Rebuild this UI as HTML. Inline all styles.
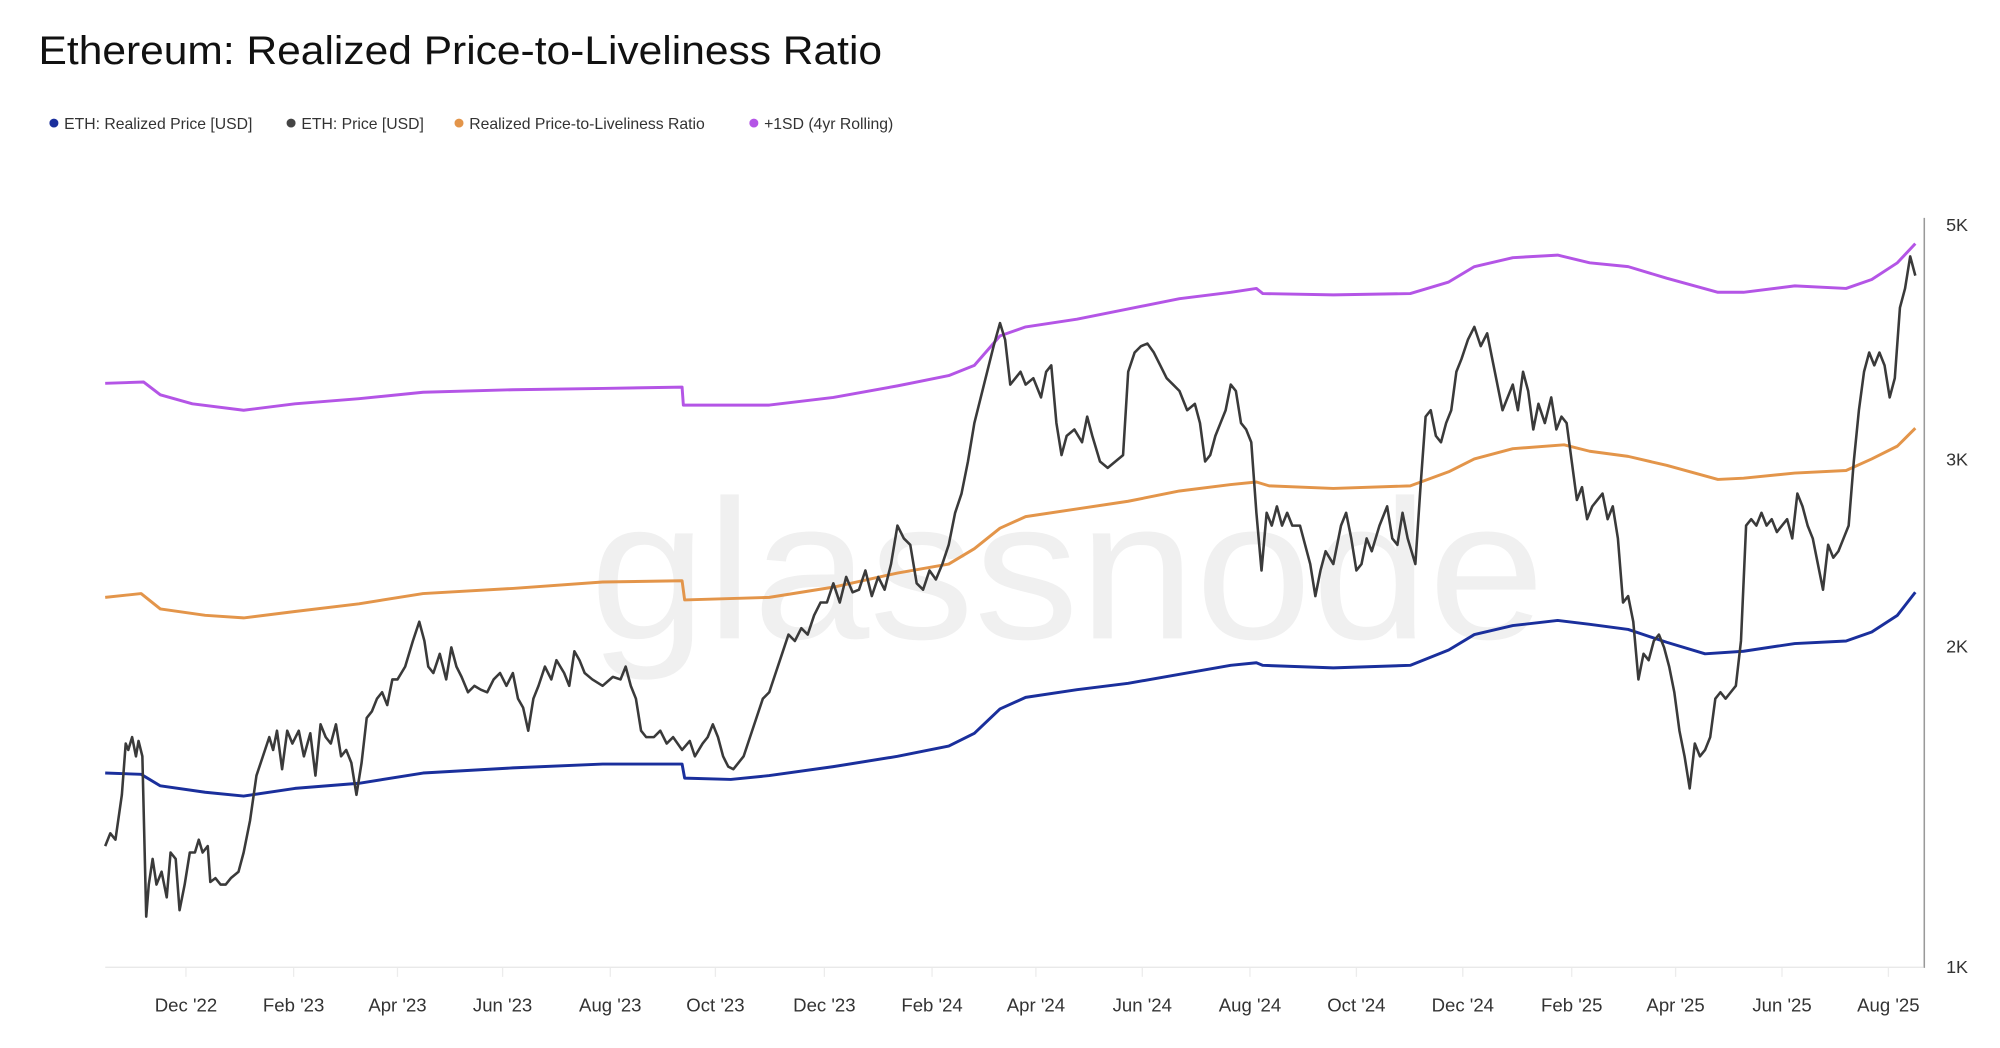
<!DOCTYPE html>
<html><head><meta charset="utf-8"><style>
html,body{margin:0;padding:0;background:#fff;width:2000px;height:1048px;overflow:hidden}
svg{display:block}
text{font-family:"Liberation Sans",sans-serif}
</style></head><body>
<svg width="2000" height="1048" viewBox="0 0 1560 817.5" xmlns="http://www.w3.org/2000/svg">
<rect width="1560" height="817.5" fill="#fff"/>
<text x="30" y="50" font-size="31" fill="#111" textLength="658" lengthAdjust="spacingAndGlyphs">Ethereum: Realized Price-to-Liveliness Ratio</text>
<g font-size="12.3" fill="#333">
<circle cx="42" cy="96" r="3.5" fill="#1a2f9c"/><text x="50" y="100.5">ETH: Realized Price [USD]</text>
<circle cx="227" cy="96" r="3.5" fill="#444"/><text x="235" y="100.5">ETH: Price [USD]</text>
<circle cx="358" cy="96" r="3.5" fill="#e3954a"/><text x="366" y="100.5">Realized Price-to-Liveliness Ratio</text>
<circle cx="588" cy="96" r="3.5" fill="#b455e6"/><text x="596" y="100.5">+1SD (4yr Rolling)</text>
</g>
<text x="460" y="498" font-size="155" fill="#f0f0f0" textLength="745" lengthAdjust="spacingAndGlyphs">glassnode</text>
<line x1="82" y1="754.5" x2="1500" y2="754.5" stroke="#e6e6e6" stroke-width="1"/>
<g stroke="#ececec"><line x1="145" y1="755" x2="145" y2="762"/><line x1="229" y1="755" x2="229" y2="762"/><line x1="310" y1="755" x2="310" y2="762"/><line x1="392" y1="755" x2="392" y2="762"/><line x1="476" y1="755" x2="476" y2="762"/><line x1="558" y1="755" x2="558" y2="762"/><line x1="643" y1="755" x2="643" y2="762"/><line x1="727" y1="755" x2="727" y2="762"/><line x1="808" y1="755" x2="808" y2="762"/><line x1="891" y1="755" x2="891" y2="762"/><line x1="975" y1="755" x2="975" y2="762"/><line x1="1058" y1="755" x2="1058" y2="762"/><line x1="1141" y1="755" x2="1141" y2="762"/><line x1="1226" y1="755" x2="1226" y2="762"/><line x1="1307" y1="755" x2="1307" y2="762"/><line x1="1390" y1="755" x2="1390" y2="762"/><line x1="1473" y1="755" x2="1473" y2="762"/></g>
<line x1="1501" y1="170" x2="1501" y2="755" stroke="#999" stroke-width="1.2"/>
<g font-size="14.5" fill="#333" text-anchor="middle">
<text x="145" y="789">Dec '22</text><text x="229" y="789">Feb '23</text><text x="310" y="789">Apr '23</text><text x="392" y="789">Jun '23</text><text x="476" y="789">Aug '23</text><text x="558" y="789">Oct '23</text><text x="643" y="789">Dec '23</text><text x="727" y="789">Feb '24</text><text x="808" y="789">Apr '24</text><text x="891" y="789">Jun '24</text><text x="975" y="789">Aug '24</text><text x="1058" y="789">Oct '24</text><text x="1141" y="789">Dec '24</text><text x="1226" y="789">Feb '25</text><text x="1307" y="789">Apr '25</text><text x="1390" y="789">Jun '25</text><text x="1473" y="789">Aug '25</text>
</g>
<g font-size="14" fill="#333"><text x="1518" y="180">5K</text><text x="1518" y="363">3K</text><text x="1518" y="509">2K</text><text x="1518" y="759">1K</text></g>
<g fill="none" stroke-width="2.3" stroke-linejoin="round">
<polyline stroke="#b455e6" points="82,299 112,298 125,308 150,315 190,320 230,315 280,311 330,306 400,304 470,303 532,302 533,316 600,316 650,310 700,301 740,293 760,285 780,262 800,255 840,249 880,241 920,233 960,228 980,225 985,229 1040,230 1100,229 1130,220 1150,208 1180,201 1215,199 1240,205 1270,208 1300,217 1340,228 1360,228 1400,223 1440,225 1460,218 1480,205 1494,190"/>
<polyline stroke="#e3954a" points="82,466 110,463 125,475 160,480 190,482 230,477 280,471 330,463 400,459 470,454 532,453 534,468 600,466 650,458 700,447 740,440 760,428 780,412 800,403 840,397 880,391 920,383 960,378 980,376 990,379 1040,381 1100,379 1130,368 1150,358 1180,350 1220,347 1240,352 1270,356 1300,363 1340,374 1360,373 1400,369 1440,367 1460,358 1480,348 1494,334"/>
<polyline stroke="#1a2f9c" points="82,603 110,604 125,613 160,618 190,621 230,615 280,611 330,603 400,599 470,596 532,596 534,607 570,608 600,605 650,598 700,590 740,582 760,572 780,553 800,544 840,538 880,533 920,526 960,519 980,517 985,519 1040,521 1100,519 1130,507 1150,495 1180,488 1215,484 1240,487 1270,491 1300,501 1330,510 1360,508 1400,502 1440,500 1460,493 1480,480 1494,462"/>
<polyline stroke="#3a3a3a" stroke-width="2" points="82,660 86,650 90,655 95,620 98,580 100,585 103,575 106,590 108,578 111,590 114,715 116,690 119,670 122,690 126,680 130,700 133,665 137,670 140,710 144,690 148,665 152,665 155,655 158,665 162,660 164,688 168,685 172,690 176,690 180,685 186,680 190,665 195,640 200,605 205,590 210,575 213,585 216,570 220,600 224,570 228,580 233,570 237,590 242,572 246,605 250,565 254,575 258,580 262,565 266,590 270,585 274,595 278,620 282,595 286,560 290,555 294,545 298,540 302,550 306,530 310,530 316,520 322,500 327,485 331,500 334,520 338,525 343,510 348,530 352,505 356,520 360,528 365,540 370,535 375,538 380,540 385,530 390,525 395,535 400,525 404,545 408,552 412,570 416,545 420,535 425,520 430,530 434,515 440,525 444,535 448,508 452,515 456,525 462,530 470,535 478,528 484,530 488,520 492,535 496,545 500,570 504,575 510,575 515,570 520,580 525,575 532,585 538,578 542,590 548,580 552,575 556,565 560,575 564,590 568,598 572,600 576,595 580,590 585,575 590,560 595,545 600,540 605,525 610,510 615,495 620,500 625,490 630,495 635,480 640,470 645,470 650,455 655,470 660,450 665,462 670,460 675,445 680,465 685,450 690,460 695,440 700,410 705,420 710,425 715,455 720,460 725,445 730,452 735,440 740,425 745,400 750,385 755,360 760,330 765,310 770,290 775,270 780,252 784,265 788,300 792,295 796,290 800,300 806,295 812,310 816,290 820,285 824,330 828,355 832,340 838,335 844,345 848,325 852,340 858,360 864,365 870,360 876,355 880,290 885,275 890,270 895,268 900,275 905,285 910,295 915,300 920,305 926,320 932,315 936,330 940,360 944,355 948,340 952,330 956,320 960,300 964,305 968,330 972,335 976,345 980,400 984,445 988,400 992,410 996,395 1000,410 1004,400 1008,410 1014,410 1018,425 1022,440 1026,465 1030,445 1034,430 1040,440 1046,410 1050,400 1054,420 1058,445 1062,440 1066,420 1070,430 1076,410 1082,395 1086,420 1090,425 1094,400 1098,420 1104,440 1108,380 1112,325 1116,320 1120,340 1124,345 1128,330 1132,320 1136,290 1140,280 1145,265 1150,255 1155,270 1160,260 1164,280 1168,300 1172,320 1176,310 1180,300 1184,320 1188,290 1192,305 1196,335 1200,315 1205,330 1210,310 1214,335 1218,325 1222,330 1226,360 1230,390 1234,380 1238,405 1242,395 1246,390 1250,385 1254,405 1258,395 1262,420 1266,470 1270,465 1274,485 1278,530 1282,510 1286,515 1290,500 1294,495 1298,505 1302,520 1306,540 1310,570 1314,590 1318,615 1322,580 1326,590 1330,585 1334,575 1338,545 1342,540 1346,545 1350,540 1354,535 1358,500 1362,410 1366,405 1370,410 1374,400 1378,410 1382,405 1386,415 1390,410 1394,405 1398,420 1402,385 1406,395 1410,410 1414,420 1418,440 1422,460 1426,425 1430,435 1434,430 1438,420 1442,410 1446,360 1450,320 1454,290 1458,275 1462,285 1466,275 1470,285 1474,310 1478,295 1482,240 1486,225 1490,200 1494,215"/>
</g>
</svg>
</body></html>
